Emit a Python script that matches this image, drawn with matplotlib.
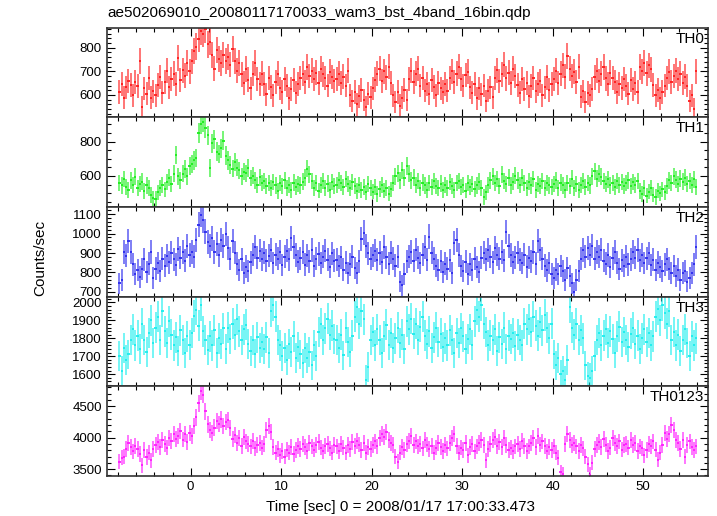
import matplotlib
matplotlib.use('Agg')
import matplotlib.pyplot as plt
import numpy as np
from matplotlib.ticker import MultipleLocator

plt.rcParams['font.family'] = ['Liberation Sans', 'DejaVu Sans']

# light curve: 0.25 s bins starting at t = -8 s
bin_size = 0.25
t_start = -8.0

# count rates (counts/sec), 16 bins (4 s) per row
th0 = np.array([
    [612, 645, 588, 632, 660, 641, 598, 655, 638, 745, 548, 628, 605, 671, 588, 615],
    [598, 642, 676, 610, 655, 702, 632, 668, 690, 645, 758, 662, 705, 682, 735, 700],
    [742, 786, 805, 838, 872, 860, 880, 815, 825, 768, 712, 790, 752, 735, 770, 745],
    [762, 728, 795, 745, 702, 735, 688, 652, 710, 665, 628, 690, 735, 668, 645, 690],
    [648, 602, 672, 635, 598, 655, 690, 628, 612, 668, 640, 585, 625, 662, 610, 648],
    [672, 690, 655, 718, 680, 702, 668, 695, 650, 710, 688, 672, 640, 698, 676, 660],
    [668, 690, 652, 678, 640, 702, 598, 575, 612, 560, 595, 620, 578, 548, 605, 590],
    [628, 665, 690, 712, 658, 700, 675, 720, 652, 598, 570, 612, 555, 588, 620, 578],
    [668, 702, 655, 690, 712, 640, 672, 618, 648, 605, 662, 635, 598, 650, 628, 612],
    [645, 618, 672, 700, 655, 690, 720, 668, 640, 685, 698, 632, 610, 648, 585, 628],
    [602, 640, 575, 618, 632, 590, 672, 705, 660, 688, 728, 670, 695, 650, 712, 680],
    [642, 610, 668, 625, 650, 595, 638, 672, 615, 648, 660, 598, 632, 675, 620, 645],
    [668, 702, 650, 690, 725, 678, 765, 712, 680, 698, 655, 720, 592, 615, 570, 608],
    [598, 625, 675, 702, 660, 690, 718, 670, 648, 695, 672, 655, 612, 648, 630, 668],
    [640, 605, 662, 625, 650, 612, 718, 700, 735, 692, 725, 708, 642, 598, 620, 585],
    [612, 640, 672, 698, 655, 680, 702, 668, 690, 650, 678, 640, 575, 598, 540, 700],
]).ravel()

th1 = np.array([
    [560, 545, 582, 538, 520, 575, 548, 596, 530, 552, 568, 512, 545, 528, 490, 472],
    [468, 505, 530, 548, 522, 565, 590, 552, 612, 722, 598, 575, 612, 640, 598, 660],
    [672, 690, 705, 848, 902, 915, 880, 835, 645, 790, 812, 742, 728, 760, 805, 718],
    [690, 665, 642, 680, 648, 632, 598, 625, 615, 645, 588, 602, 575, 548, 592, 560],
    [572, 540, 558, 528, 565, 545, 512, 558, 540, 575, 530, 548, 520, 562, 538, 555],
    [545, 568, 590, 642, 610, 572, 530, 558, 515, 548, 570, 532, 556, 520, 565, 542],
    [548, 575, 560, 538, 582, 555, 528, 565, 540, 512, 548, 520, 535, 505, 552, 528],
    [510, 538, 495, 525, 548, 515, 530, 498, 522, 560, 598, 615, 575, 632, 590, 660],
    [612, 575, 590, 548, 570, 530, 562, 545, 518, 558, 535, 570, 542, 528, 556, 520],
    [548, 532, 565, 540, 520, 558, 572, 535, 548, 515, 560, 538, 552, 525, 545, 568],
    [530, 478, 505, 548, 575, 598, 560, 582, 540, 610, 572, 555, 590, 545, 568, 602],
    [575, 548, 590, 560, 532, 568, 545, 582, 520, 555, 540, 572, 528, 560, 545, 535],
    [552, 575, 530, 562, 545, 518, 558, 540, 585, 532, 555, 520, 548, 570, 535, 560],
    [545, 598, 628, 585, 612, 595, 570, 552, 580, 545, 560, 535, 572, 548, 565, 540],
    [558, 575, 540, 565, 548, 572, 512, 495, 528, 485, 510, 530, 492, 478, 515, 500],
    [522, 505, 540, 575, 560, 598, 578, 552, 585, 568, 590, 555, 572, 548, 580, 535],
]).ravel()

th2 = np.array([
    [745, 760, 905, 885, 960, 905, 842, 790, 812, 775, 818, 868, 800, 845, 905, 772],
    [820, 848, 805, 870, 835, 885, 852, 902, 868, 840, 922, 875, 905, 860, 935, 890],
    [905, 880, 968, 1045, 1098, 1070, 1010, 958, 935, 975, 905, 948, 890, 965, 935, 998],
    [925, 870, 960, 902, 845, 812, 868, 795, 830, 805, 852, 892, 930, 875, 912, 868],
    [902, 860, 885, 915, 848, 892, 870, 905, 838, 880, 912, 868, 975, 932, 890, 855],
    [872, 905, 840, 888, 858, 915, 832, 870, 895, 848, 880, 912, 865, 830, 898, 860],
    [865, 832, 878, 815, 850, 798, 842, 880, 822, 795, 858, 972, 1005, 935, 898, 870],
    [888, 912, 865, 900, 852, 930, 878, 845, 902, 870, 835, 880, 752, 735, 790, 858],
    [882, 905, 860, 918, 875, 848, 892, 930, 865, 985, 902, 870, 835, 812, 858, 802],
    [845, 820, 862, 798, 952, 968, 890, 832, 808, 855, 790, 842, 815, 870, 828, 802],
    [875, 902, 868, 915, 880, 852, 925, 892, 870, 905, 862, 1008, 935, 890, 852, 878],
    [902, 865, 848, 892, 830, 875, 858, 905, 845, 962, 918, 870, 835, 810, 848, 792],
    [772, 815, 790, 832, 805, 760, 822, 780, 745, 698, 762, 805, 870, 915, 880, 925],
    [892, 935, 870, 905, 882, 918, 860, 845, 890, 828, 872, 905, 850, 818, 862, 835],
    [880, 842, 868, 905, 875, 915, 862, 890, 848, 872, 898, 838, 865, 812, 850, 828],
    [805, 842, 868, 820, 795, 832, 780, 815, 762, 798, 808, 752, 770, 798, 842, 930],
]).ravel()

th3 = np.array([
    [1700, 1620, 1745, 1680, 1710, 1790, 1850, 1760, 1815, 1740, 1880, 1790, 1725, 1830, 1900, 1775],
    [1860, 1920, 1790, 1950, 1840, 1775, 1895, 1820, 1760, 1805, 1730, 1845, 1790, 1720, 1810, 1765],
    [1830, 1925, 1960, 1870, 1985, 1840, 1790, 1735, 1810, 1760, 1845, 1720, 1800, 1770, 1855, 1740],
    [1860, 1795, 1880, 1820, 1905, 1840, 1790, 1850, 1875, 1770, 1730, 1790, 1715, 1805, 1745, 1780],
    [1740, 1805, 1720, 1950, 1985, 1920, 1790, 1760, 1700, 1745, 1680, 1770, 1725, 1810, 1690, 1750],
    [1710, 1660, 1745, 1690, 1725, 1650, 1760, 1700, 1835, 1880, 1790, 1855, 1910, 1820, 1870, 1795],
    [1790, 1745, 1820, 1705, 1860, 1780, 1725, 1815, 1920, 1975, 1880, 1950, 1905, 1570, 1640, 1790],
    [1835, 1760, 1850, 1790, 1720, 1810, 1875, 1765, 1830, 1745, 1800, 1860, 1775, 1820, 1740, 1895],
    [1850, 1910, 1825, 1880, 1790, 1865, 1920, 1815, 1770, 1840, 1745, 1805, 1860, 1780, 1825, 1750],
    [1800, 1760, 1845, 1790, 1720, 1830, 1775, 1855, 1810, 1740, 1795, 1850, 1765, 1895, 1960, 1920],
    [1985, 1880, 1835, 1760, 1815, 1790, 1850, 1730, 1805, 1770, 1860, 1740, 1815, 1795, 1830, 1755],
    [1820, 1790, 1760, 1880, 1850, 1905, 1835, 1920, 1870, 1815, 1890, 1845, 1930, 1860, 1800, 1880],
    [1710, 1650, 1690, 1600, 1620, 1565, 1680, 1975, 1860, 1820, 1880, 1790, 1845, 1800, 1650, 1590],
    [1580, 1620, 1700, 1790, 1830, 1760, 1815, 1850, 1775, 1840, 1795, 1720, 1810, 1865, 1780, 1835],
    [1790, 1750, 1825, 1860, 1770, 1815, 1740, 1800, 1850, 1780, 1830, 1760, 1810, 1920, 1965, 1900],
    [1985, 1940, 1880, 1950, 1790, 1835, 1760, 1820, 1730, 1790, 1850, 1775, 1700, 1810, 1760, 1800],
]).ravel()

th0123 = np.array([
    [3620, 3680, 3700, 3820, 3910, 3850, 3780, 3870, 3820, 3740, 3560, 3800, 3690, 3760, 3640, 3820],
    [3880, 3930, 3850, 3960, 3900, 3840, 3990, 3950, 4060, 3980, 4030, 4110, 3970, 4050, 3930, 4080],
    [4020, 4180, 4320, 4550, 4740, 4680, 4420, 4210, 4120, 4080, 4160, 4260, 4220, 4290, 4180, 4250],
    [4280, 4150, 3980, 4040, 3920, 3990, 3870, 4010, 3940, 3900, 3860, 3950, 3830, 3880, 3920, 3840],
    [3900, 4120, 4180, 4090, 3850, 3760, 3820, 3720, 3790, 3700, 3810, 3760, 3850, 3740, 3800, 3870],
    [3820, 3900, 3850, 3790, 3920, 3860, 3810, 3880, 3930, 3840, 3780, 3870, 3900, 3830, 3760, 3880],
    [3860, 3790, 3900, 3840, 3760, 3880, 3820, 3930, 3870, 3950, 3890, 3800, 3910, 3760, 3850, 3820],
    [3880, 3940, 3860, 3990, 4050, 4010, 4090, 3960, 3920, 3880, 3700, 3620, 3760, 3850, 3800, 3900],
    [3950, 4020, 3880, 3940, 3860, 3900, 3830, 3960, 3890, 3820, 3870, 3760, 3840, 3910, 3850, 3790],
    [3880, 3830, 3920, 4000, 4050, 3870, 3760, 3840, 3800, 3910, 3720, 3850, 3900, 3780, 3860, 3920],
    [3960, 3880, 3640, 3820, 3900, 3960, 4010, 3870, 3930, 3850, 3990, 3880, 3800, 3840, 3780, 3860],
    [3900, 3820, 3950, 3870, 3790, 3860, 3920, 3990, 3850, 4020, 3890, 3940, 3870, 3780, 3850, 3800],
    [3860, 3760, 3680, 3450, 3420, 3900, 4050, 3960, 3880, 3920, 3860, 3790, 3880, 3830, 3700, 3580],
    [3410, 3600, 3820, 3880, 3930, 3850, 3980, 3890, 3790, 3840, 4000, 3920, 3870, 3940, 3810, 3880],
    [3900, 3840, 3960, 3880, 3920, 3790, 3860, 3830, 3720, 3800, 3900, 3860, 3940, 3810, 3650, 3760],
    [3880, 4080, 3980, 4060, 4200, 4120, 3960, 3910, 3820, 3960, 3700, 3880, 3940, 3850, 3800, 3860],
]).ravel()

time = t_start + bin_size * (np.arange(len(th0)) + 0.5)

panels = [
    ('TH0', th0, '#ff1a1a', (505, 885), 100, 20),
    ('TH1', th1, '#1aee1a', (420, 940), 200, 50),
    ('TH2', th2, '#2a2aee', (675, 1137), 100, 20),
    ('TH3', th3, '#1aeeee', (1532, 2032), 100, 20),
    ('TH0123', th0123, '#ff1aff', (3390, 4815), 500, 100),
]

fig = plt.figure(figsize=(7.17, 5.16), dpi=100, facecolor='white')
gs = fig.add_gridspec(5, 1, left=0.1488, right=0.9879, top=0.9463,
                      bottom=0.0775, hspace=0)

for i, (name, rate, color, ylim, major, minor) in enumerate(panels):
    ax = fig.add_subplot(gs[i])
    err = np.sqrt(rate / bin_size)
    # vertical error bars (lighter) and horizontal bin widths (solid)
    ax.errorbar(time, rate, yerr=err, fmt='none', ecolor=color,
                elinewidth=1.2, alpha=0.7, capsize=0)
    ax.errorbar(time, rate, xerr=bin_size / 2, fmt='none', ecolor=color,
                elinewidth=1.3, alpha=1.0, capsize=0)
    ax.set_xlim(-9.28, 57.2)
    ax.set_ylim(*ylim)
    ax.xaxis.set_major_locator(MultipleLocator(10))
    ax.xaxis.set_minor_locator(MultipleLocator(2))
    ax.yaxis.set_major_locator(MultipleLocator(major))
    ax.yaxis.set_minor_locator(MultipleLocator(minor))
    ax.tick_params(which='both', direction='in', top=True, right=True,
                   labelsize=9.5, width=0.8)
    ax.tick_params(which='major', length=6)
    ax.tick_params(which='minor', length=3)
    for s in ax.spines.values():
        s.set_linewidth(1.2)
        s.set_color('#333333')
    ax.text(0.993, 0.955, name, transform=ax.transAxes, ha='right', va='top',
            fontsize=11)
    if i < len(panels) - 1:
        ax.tick_params(labelbottom=False)

fig.text(107 / 717, 1 - 13 / 516,
         'ae502069010_20080117170033_wam3_bst_4band_16bin.qdp',
         ha='left', va='center', fontsize=11)
fig.text(40 / 717, 1 - 258 / 516, 'Counts/sec', rotation=90,
         ha='center', va='center', fontsize=11)
fig.text(400 / 717, 1 - 507 / 516,
         'Time [sec] 0 = 2008/01/17 17:00:33.473',
         ha='center', va='center', fontsize=11)

fig.savefig('out.png', dpi=100)
